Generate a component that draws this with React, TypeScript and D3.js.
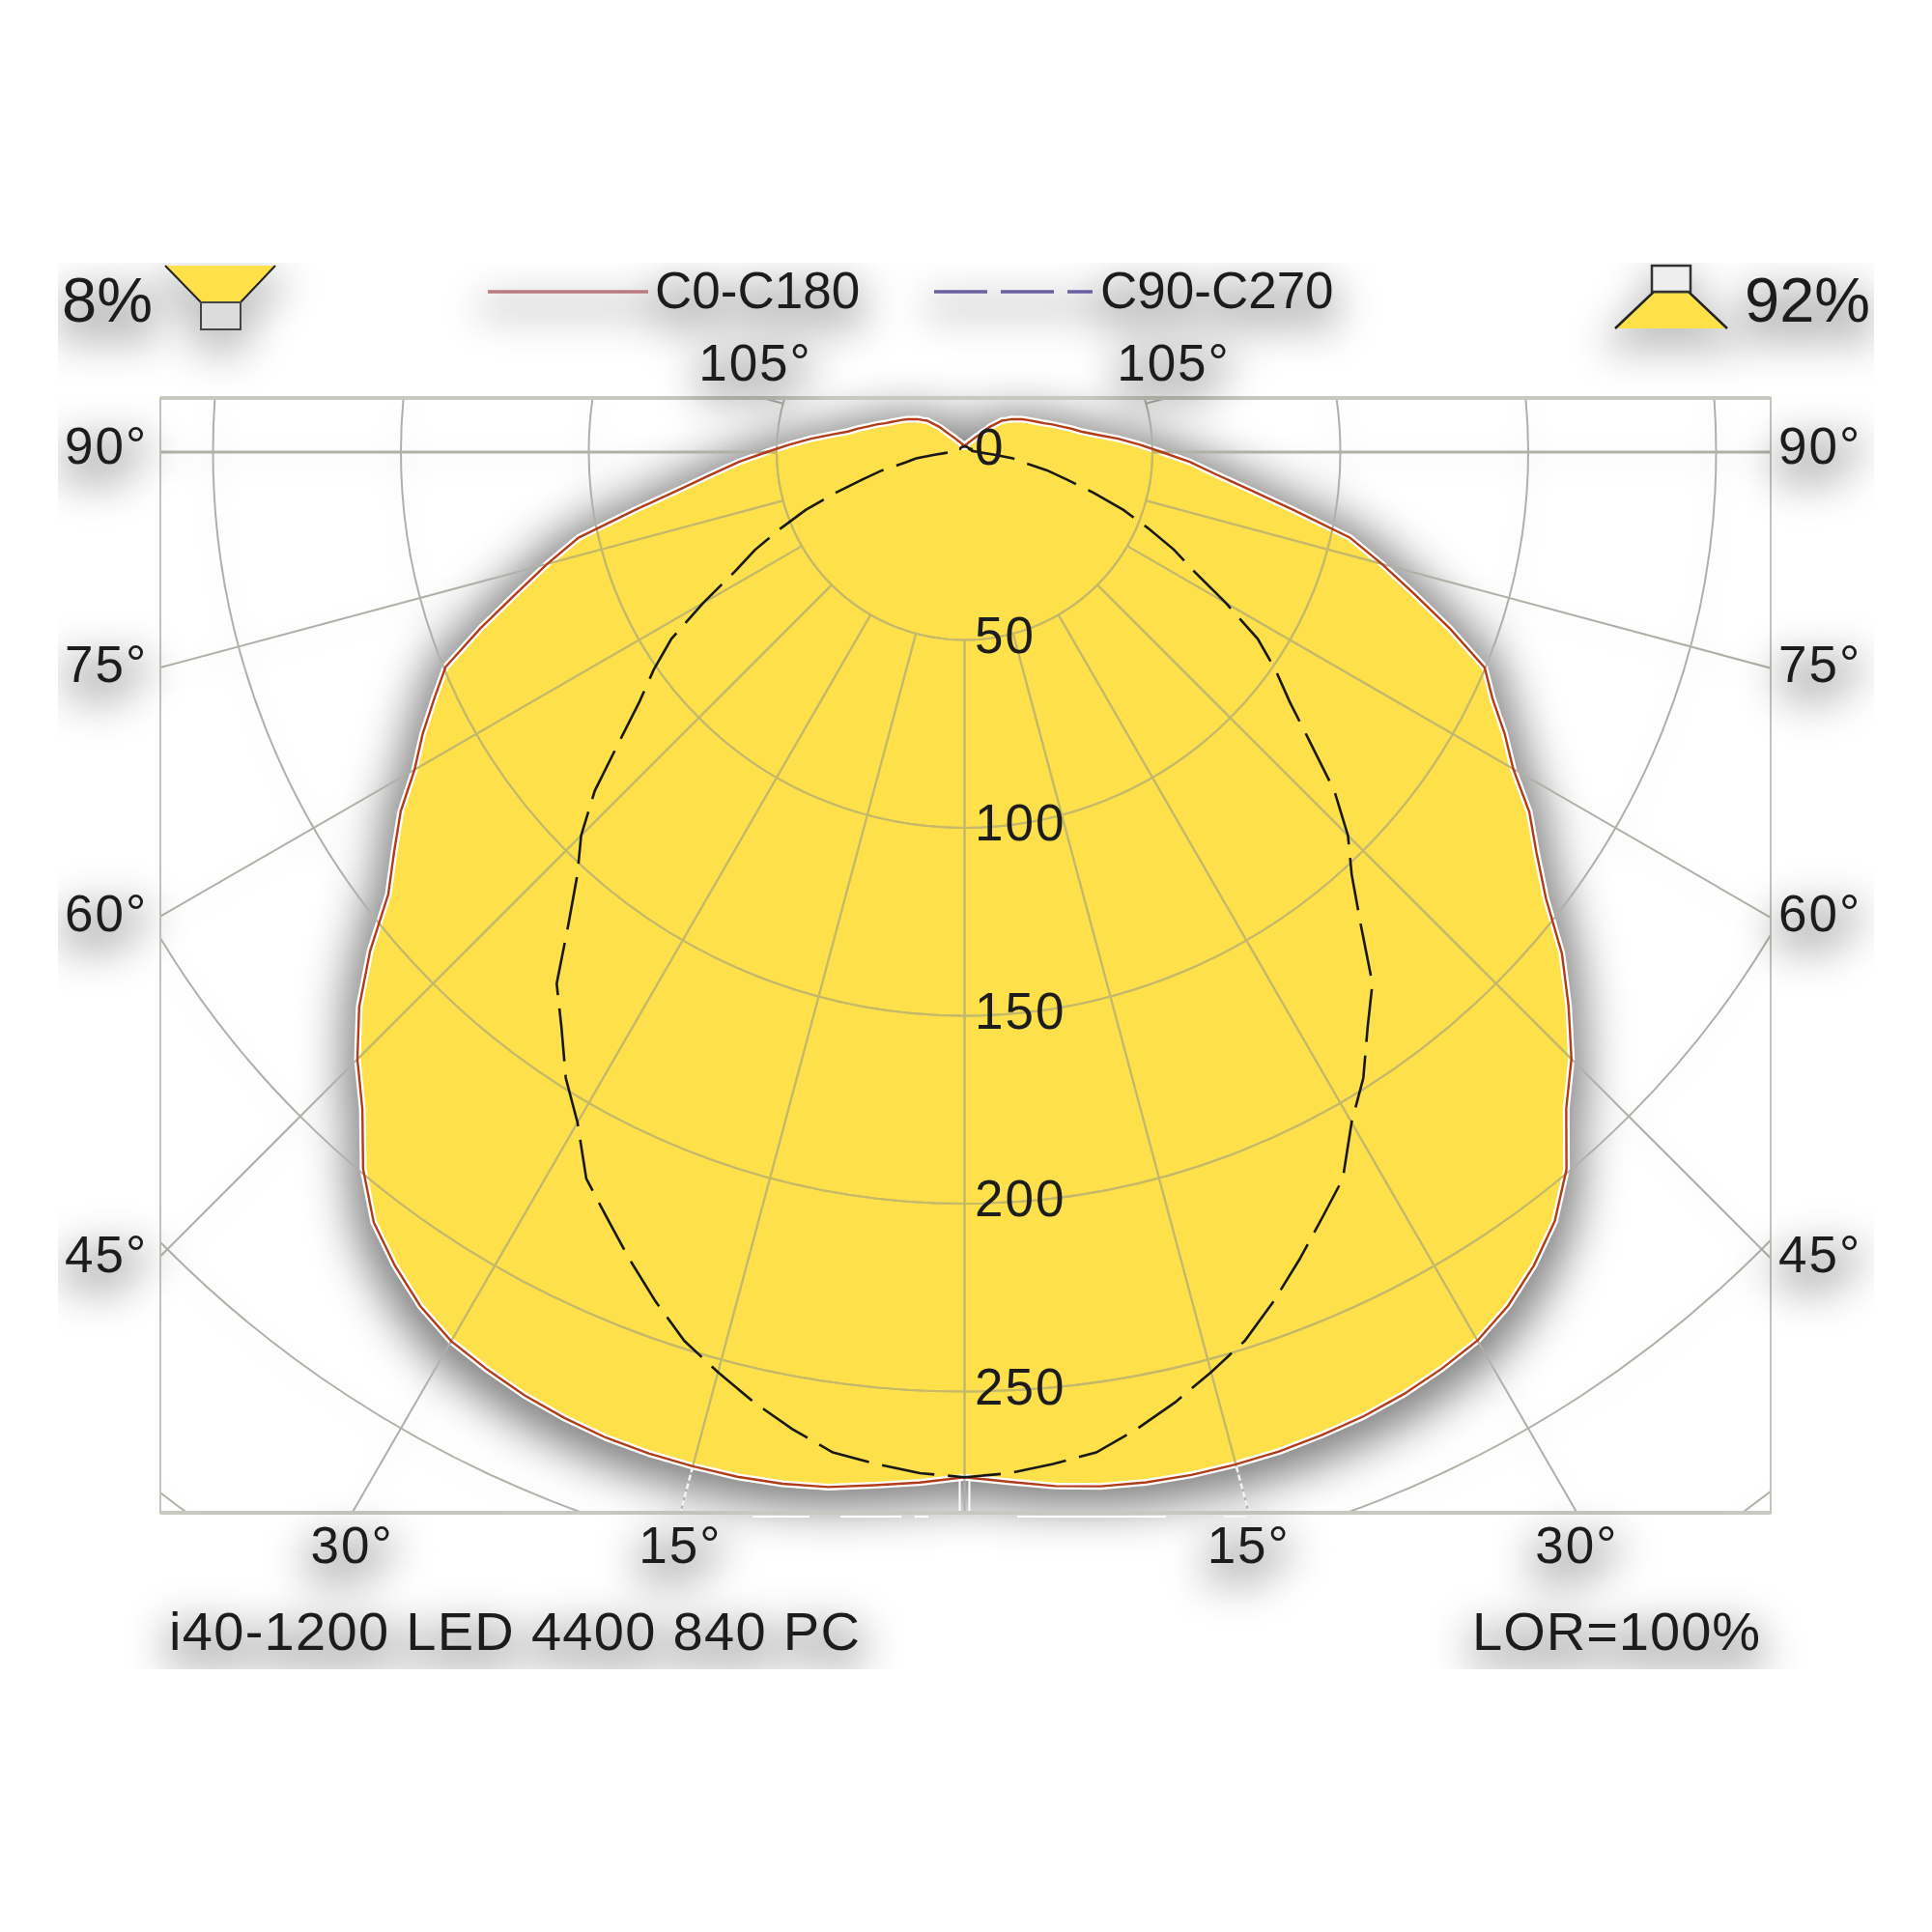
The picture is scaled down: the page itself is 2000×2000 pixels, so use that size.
import React from "react";
import * as d3 from "d3";

// polar angle from nadir, every 2.5 degrees
const angles = d3.range(0, 182.5, 2.5);
const uplightTail = [
  31.5, 29, 26.5, 24.5, 22.5, 21, 19.7, 18.6, 17.5, 16.3,
  15.3, 14, 13, 11, 9.5, 7.3, 6, 5.2, 4.5, 4,
  3.5, 3.2, 3, 2.7, 2.5, 2.3, 2, 2, 2, 1.7,
  1.5, 1.5, 1.5,
];
const c0Values = [
  272.8, 274.3, 276.2, 277.6, 278.4, 278.8, 278.9, 278.8, 278.3, 277.7,
  276.6, 275, 273, 269.3, 264.2, 258, 249.2, 237, 228.4, 218,
  207.5, 195, 185.8, 178.2, 168.6, 162, 155, 149.8, 137.5, 125.5,
  115, 105, 89, 76.5, 67, 60, 52.5, 46.5, 41, 35.5,
  ...uplightTail,
];
const c180Values = [
  272.8, 274.5, 276, 277.8, 278.8, 279.3, 279.4, 279.4, 279.1, 278.2,
  277, 275.2, 273.2, 269.5, 264.3, 258.3, 249, 237.2, 228.5, 218.5,
  206.5, 193.3, 185.3, 177.9, 169, 162.6, 155.8, 149.5, 137.1, 125.1,
  115, 105.2, 89.3, 76.6, 67.5, 60.1, 52.7, 46.5, 41, 35.7,
  ...uplightTail,
];
const c90Values = [
  272.8, 272, 270.3, 268.5, 264, 259, 253.5, 248, 240.5, 232.7,
  225, 218, 206, 197.5, 187, 178.3, 164, 152.5, 144.3, 133.5,
  120, 109, 101, 92.5, 80.3, 69, 61.5, 52.8, 45, 36,
  28, 22.5, 16, 13, 8, 5, 3.8, 3, 2.5, 2.2,
  2, 2, 2, 2, 2, 2, 1.7, 1.7, 1.7, 1.7,
  1.5, 1.5, 1.5, 1.5, 1.5, 1.5, 1.5, 1.5, 1.5, 1.5,
  1.5, 1.5, 1.5, 1.5, 1.5, 1.5, 1.5, 1.5, 1.5, 1.5,
  1.5, 1.5, 1.5,
];
const c270Values = c90Values;

const rings = [50, 100, 150, 200, 250, 300, 350];
const ringLabels = [0, 50, 100, 150, 200, 250];
const spokes = [0, 15, 30, 45, 60, 75, 90, 105];
const sideLabels = [90, 75, 60, 45];
const bottomLabels = [30, 15];
const topLabels = [105];

const legendNames = ["C0-C180", "C90-C270"];
const title = "i40-1200 LED 4400 840 PC";
const lorText = "LOR=100%";
const downText = "8%";
const upText = "92%";

const cx = 998.5;
const cy = 468;
const box = { left: 166, right: 1833, top: 412, bottom: 1566 };
const font = "'Liberation Sans', Arial, sans-serif";
const gridColor = "#b0b0a8";
const gridOnYellow = "#c6b964";
const yellow = "#fee04a";
const ink = "#1c1c1c";

const r = d3.scaleLinear().domain([0, 50]).range([0, 194.5]);
const deg = (d: number) => (d * Math.PI) / 180;

// d3 radial angle 0 points up, the diagram has 0 down
const rightPts = (vals: number[]) => angles.map((a, i) => [Math.PI - deg(a), r(vals[i])] as [number, number]);
const leftPts = (vals: number[]) => angles.map((a, i) => [Math.PI + deg(a), r(vals[i])] as [number, number]);
const radial = d3.lineRadial<[number, number]>().angle((d) => d[0]).radius((d) => d[1]);

const outline = (right: number[], left: number[]) =>
  radial([...rightPts(right).reverse(), ...leftPts(left)]) as string;

const c0Path = outline(c0Values, c180Values);
const c90Path = outline(c90Values, c270Values);

const spokePath = (a: number, side: number, from = 50) =>
  radial([
    [Math.PI - side * deg(a), r(from)],
    [Math.PI - side * deg(a), r(700)],
  ]) as string;

const T: React.FC<{ x: number; y: number; size?: number; anchor?: string; ls?: number; children: React.ReactNode }> = ({
  x,
  y,
  size = 53,
  anchor = "start",
  ls = 0,
  children,
}) => (
  <text x={x} y={y} fontSize={size} textAnchor={anchor} letterSpacing={ls}>
    {children}
  </text>
);

const Grid: React.FC<{ color: string }> = ({ color }) => (
  <g fill="none" stroke={color} strokeWidth={2}>
    {rings.map((d) => (
      <circle key={d} cx={cx} cy={cy} r={r(d)} />
    ))}
    <g transform={`translate(${cx},${cy})`}>
      {spokes.map((a) => (
        <g key={a} strokeWidth={a === 90 ? 3 : 2}>
          <path d={spokePath(a, 1)} />
          {a > 0 && <path d={spokePath(a, -1)} />}
        </g>
      ))}
    </g>
  </g>
);

// everything outside the plot, this group carries the scan's soft shadow
const Outer: React.FC = () => {
  const width = box.right - cx;
  return (
    <g fill={ink}>
      <T x={64} y={333} size={65}>{downText}</T>
      <T x={1806} y={333} size={65}>{upText}</T>
      <T x={678} y={319}>{legendNames[0]}</T>
      <T x={1139} y={319}>{legendNames[1]}</T>
      {topLabels.map((d) => (
        <g key={d}>
          <T x={782} y={394} anchor="middle" ls={2}>{d}°</T>
          <T x={1215} y={394} anchor="middle" ls={2}>{d}°</T>
        </g>
      ))}
      {sideLabels.map((d) => {
        const y = cy + (d === 90 ? 0 : width / Math.tan(deg(d))) + (d === 90 ? 12 : 14);
        return (
          <g key={d}>
            <T x={67} y={y} ls={2}>{d}°</T>
            <T x={1841} y={y} ls={2}>{d}°</T>
          </g>
        );
      })}
      {bottomLabels.map((d) => {
        const dx = Math.tan(deg(d)) * (box.bottom - cy);
        return (
          <g key={d}>
            <T x={cx - dx} y={1618} anchor="middle" ls={2}>{d}°</T>
            <T x={cx + dx} y={1618} anchor="middle" ls={2}>{d}°</T>
          </g>
        );
      })}
      <T x={175} y={1708} size={56} ls={1.3}>{title}</T>
      <T x={1524} y={1708} size={56} ls={1}>{lorText}</T>

      <line x1={505} x2={671} y1={302} y2={302} stroke="#b87a80" strokeWidth={3.5} />
      <line x1={967} x2={1131} y1={302} y2={302} stroke="#6a5fa0" strokeWidth={3.5} strokeDasharray="55 14" />

      {/* downlight icon */}
      <path d="M171,275 L285,275 L249,313 L208,313 Z" fill={yellow} />
      <path d="M171,275 L208,313 L249,313 L285,275" fill="none" stroke="#222" strokeWidth={2} />
      <rect x={208} y={313} width={41} height={28} fill="#dcdcdc" stroke="#444" strokeWidth={2} />

      {/* uplight icon */}
      <path d="M1712,302 L1748,302 L1788,340 L1672,340 Z" fill={yellow} />
      <path d="M1672,340 L1712,302 L1748,302 L1788,340" fill="none" stroke="#222" strokeWidth={2.5} />
      <rect x={1710} y={275} width={40} height={27} fill="#eeeeee" stroke="#333" strokeWidth={2.5} />
    </g>
  );
};

export default function App() {
  const center = `translate(${cx},${cy})`;
  return (
    <svg
      width={2000}
      height={2000}
      style={{ position: "absolute", left: 0, top: 0, background: "#fff" }}
      fontFamily={font}
    >
      <defs>
        <clipPath id="plot">
          <rect x={box.left} y={box.top} width={box.right - box.left} height={box.bottom - box.top} />
        </clipPath>
        <clipPath id="scan">
          <rect x={60} y={272} width={1880} height={1456} />
        </clipPath>
        <clipPath id="lit">
          <path d={c0Path} transform={center} />
        </clipPath>
        <filter id="blurBig" filterUnits="userSpaceOnUse" x={0} y={0} width={2000} height={2000}>
          <feMorphology operator="dilate" radius={14} />
          <feGaussianBlur stdDeviation={24} />
        </filter>
        <filter id="blurGrid" filterUnits="userSpaceOnUse" x={0} y={0} width={2000} height={2000}>
          <feGaussianBlur stdDeviation={16} />
        </filter>
        <filter id="softShadow" filterUnits="userSpaceOnUse" x={0} y={0} width={2000} height={2000}>
          <feMorphology in="SourceAlpha" operator="dilate" radius={8} result="fat" />
          <feGaussianBlur in="fat" stdDeviation={20} result="soft" />
          <feOffset in="soft" dy={16} result="moved" />
          <feFlood floodColor="#000" floodOpacity={0.24} />
          <feComposite in2="moved" operator="in" result="shadow" />
          <feMerge>
            <feMergeNode in="shadow" />
            <feMergeNode in="SourceGraphic" />
          </feMerge>
        </filter>
      </defs>

      {/* soft shadows left over in the scan */}
      <g clipPath="url(#scan)">
        <g clipPath="url(#plot)">
          <g filter="url(#blurGrid)" opacity={0.14} transform="translate(0,8)">
            <Grid color="#000" />
          </g>
        </g>
        <g filter="url(#blurBig)" opacity={0.5}>
          <path d={c0Path} transform={`translate(${cx},${cy + 8})`} fill="#000" />
        </g>
      </g>

      <path d={c0Path} transform={center} fill={yellow} stroke="#fff" strokeWidth={7} />

      {/* grid */}
      <g clipPath="url(#plot)">
        <Grid color={gridColor} />
        <g clipPath="url(#lit)">
          <Grid color={gridOnYellow} />
        </g>
        {/* the scan washes the spokes out under the curve */}
        <g transform={center} fill="none" stroke="#f4f4f4" strokeWidth={2.5} strokeDasharray="6 3">
          <path d={spokePath(15, 1, 279.5)} />
          <path d={spokePath(15, -1, 279.5)} />
        </g>
      </g>
      <g stroke="#fff" strokeWidth={2}>
        <line x1={cx - 5} x2={cx - 5} y1={1532} y2={1564} />
        <line x1={cx + 5} x2={cx + 5} y1={1532} y2={1564} />
        <line x1={779} x2={838} y1={1570} y2={1570} />
        <line x1={870} x2={933} y1={1570} y2={1570} />
        <line x1={947} x2={961} y1={1570} y2={1570} />
        <line x1={1053} x2={1207} y1={1570} y2={1570} />
        <line x1={1267} x2={1290} y1={1570} y2={1570} />
      </g>
      <rect
        x={box.left}
        y={box.top}
        width={box.right - box.left}
        height={box.bottom - box.top}
        fill="none"
        stroke="#c4c4bc"
        strokeWidth={2}
      />
      <line x1={box.left} x2={box.right} y1={box.top} y2={box.top} stroke="#c8c8c0" strokeWidth={4} />
      <line x1={box.left} x2={box.right} y1={box.bottom} y2={box.bottom} stroke="#c8c8c0" strokeWidth={4} />

      {/* curves */}
      <path d={c0Path} transform={center} fill="none" stroke="#b23c18" strokeWidth={2.4} />
      <path d={c90Path} transform={center} fill="none" stroke="#181818" strokeWidth={2.6} strokeDasharray="55 14" />

      <g clipPath="url(#scan)">
        <g filter="url(#softShadow)">
          <Outer />
        </g>
      </g>
      <g fill={ink}>
        {ringLabels.map((d) => (
          <T key={d} x={1009} y={cy + r(d) + 13} ls={2}>{d}</T>
        ))}
      </g>
    </svg>
  );
}
